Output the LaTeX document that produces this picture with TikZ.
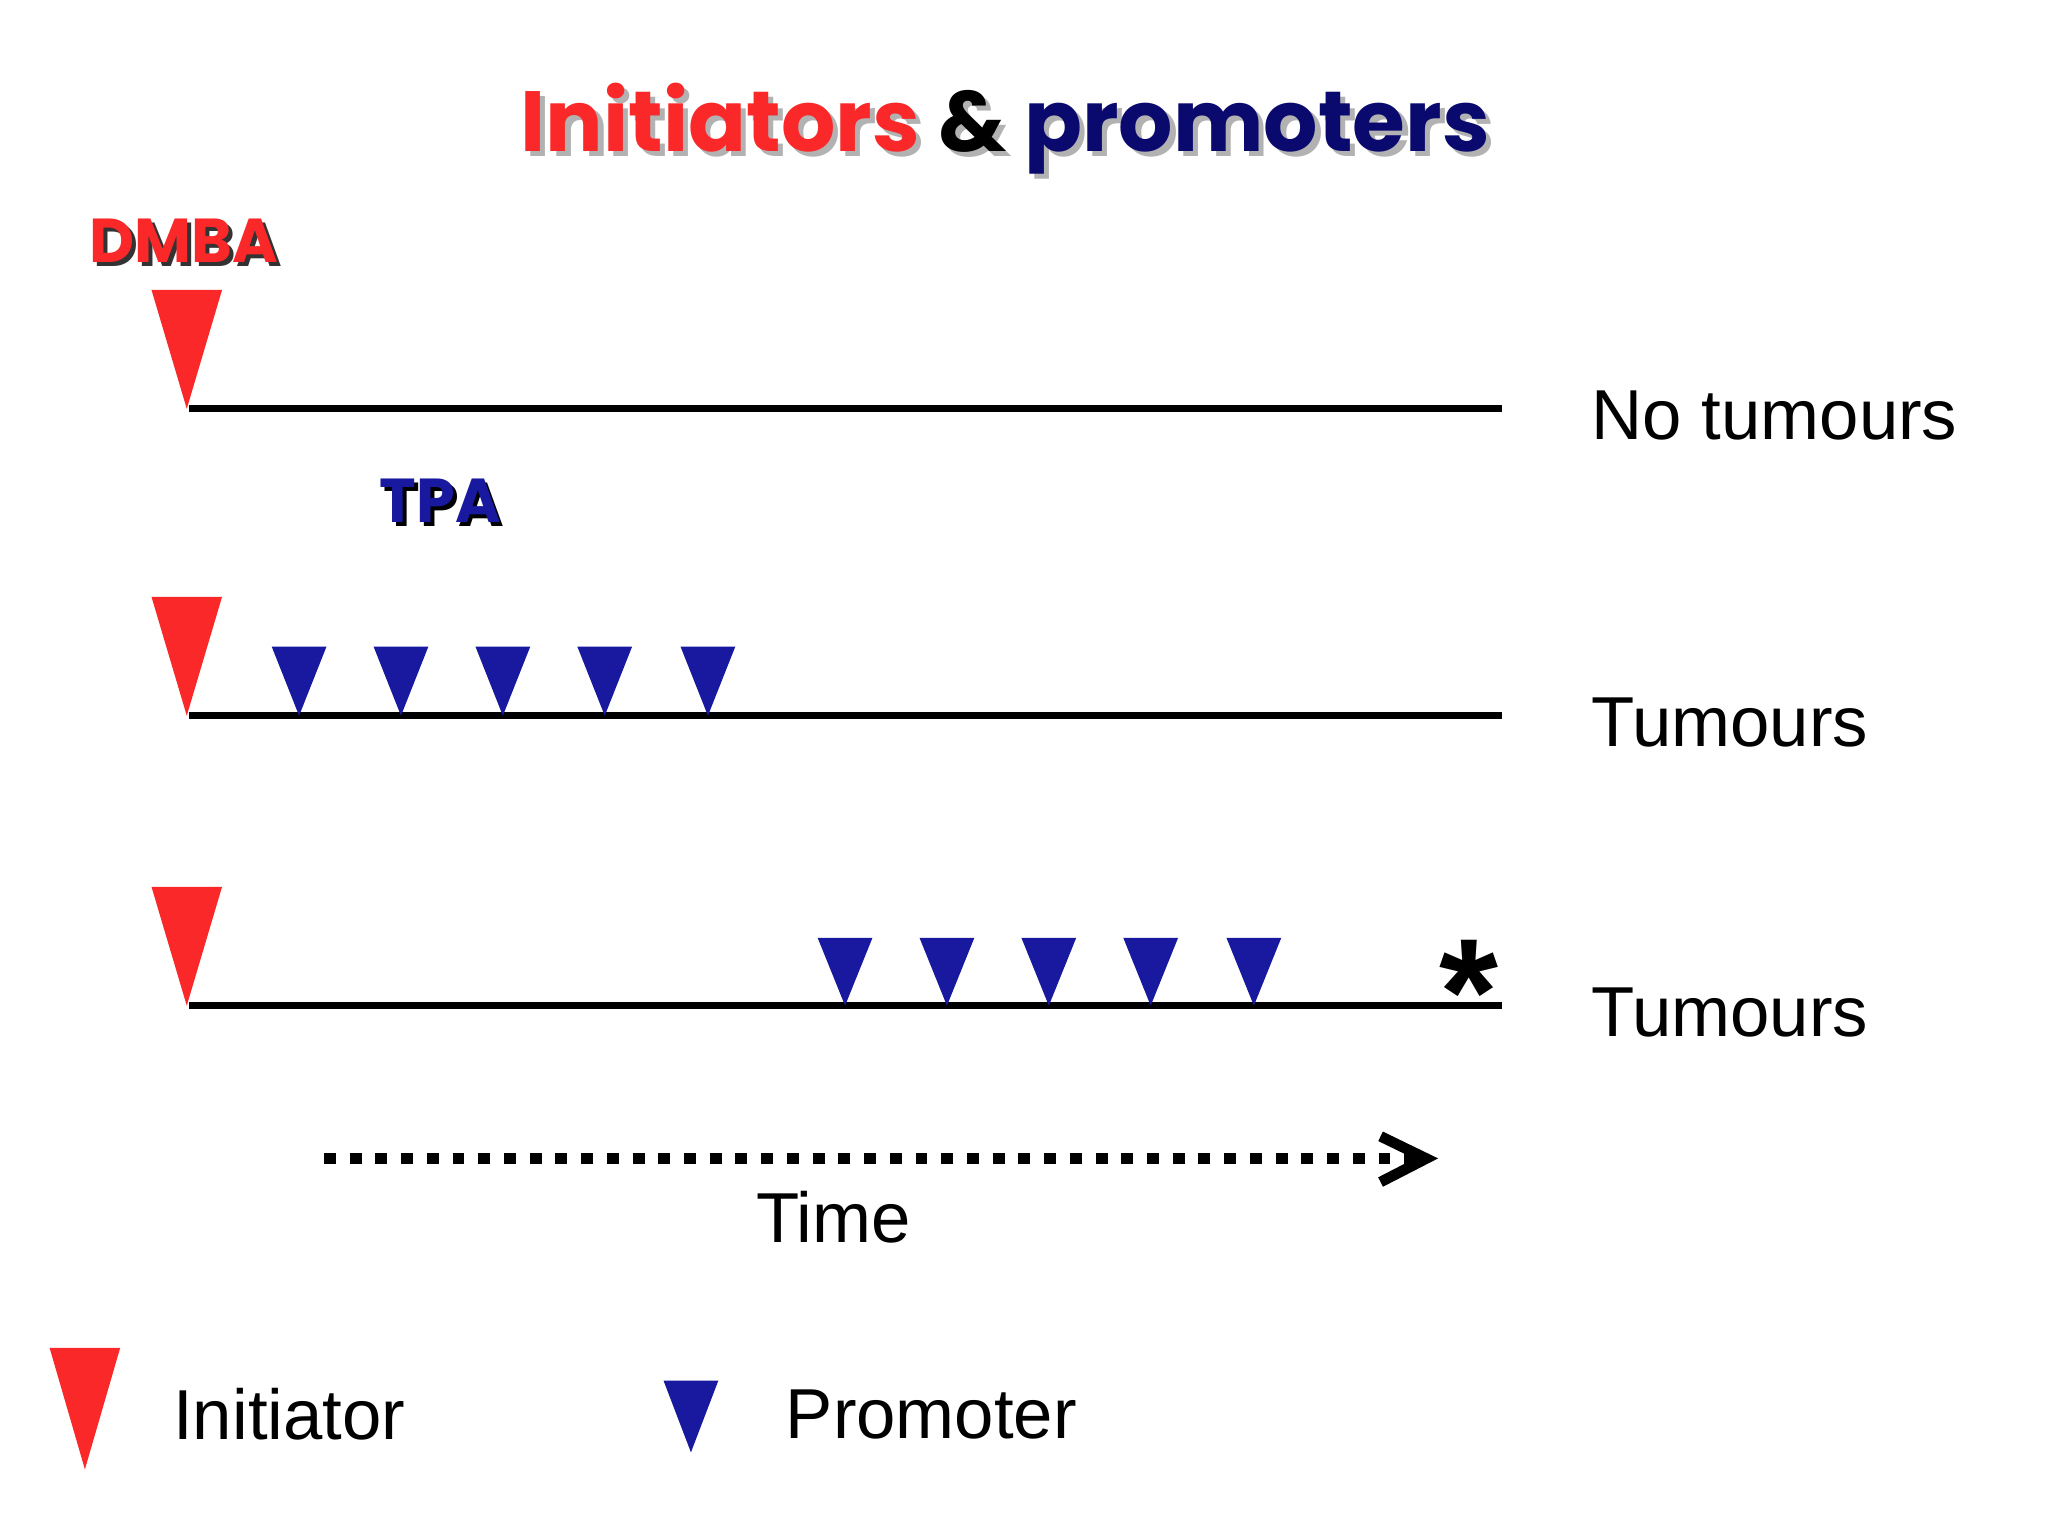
\documentclass[tikz,border=0pt]{standalone}
\usepackage{fontspec}
\setmainfont{Liberation Sans}
\newfontfamily\comic{Poppins}
\definecolor{ired}{RGB}{250,40,40}
\definecolor{pblue}{RGB}{25,25,160}
\definecolor{navy}{RGB}{10,10,110}
\begin{document}
\begin{tikzpicture}[x=0.01cm,y=-0.01cm,
  tline/.style={line width=1.5pt},
  lab/.style={anchor=west,font=\fontsize{15.4pt}{18pt}\selectfont,inner sep=0},
  ttl/.style={font=\comic\bfseries\fontsize{18.6pt}{22pt}\selectfont,inner sep=0},
  sml/.style={font=\comic\bfseries\fontsize{13.5pt}{16pt}\selectfont,inner sep=0}]
\useasboundingbox[fill=white] (0,0) rectangle (1568,1176);
\newcommand\initri[3]{\fill[ired] (#1-27,#2) -- (#1+27,#2) -- (#1,#3) -- cycle;}
\newcommand\protri[3]{\fill[pblue] (#1-21,#2) -- (#1+21,#2) -- (#1,#3) -- cycle;}
% title
\node[ttl,text=gray!60,anchor=base west] at (402,120) {Initiators \textcolor{gray!60}{\&} promoters};
\node[ttl,anchor=base west] (title) at (398,116) {\textcolor{ired}{Initiators} \textcolor{black}{\&} \textcolor{navy}{promoters}};
% lines
\draw[tline] (145,313) -- (1150,313) coordinate (e1);
\draw[tline] (145,548) -- (1150,548) coordinate (e2);
\draw[tline] (145,770) -- (1150,770) coordinate (e3);
\initri{143}{222}{313}
\initri{143}{457}{548}
\initri{143}{679}{770}
\foreach \x in {229,307,385,463,542} {\protri{\x}{495}{548}}
\foreach \x in {647,725,803,881,960} {\protri{\x}{718}{770}}
\node[font=\bfseries\fontsize{33pt}{33pt}\selectfont,inner sep=0] (ast) at (1125,760) {*};
% small labels
\node[sml,text=black!80,anchor=base west] at (71,204) {DMBA};
\node[sml,text=ired,anchor=base west] (dmba) at (68,201) {DMBA};
\node[sml,text=black,anchor=base west] at (293,403) {TPA};
\node[sml,text=pblue,anchor=base west] (tpa) at (290,400) {TPA};
% right labels
\node[lab] (l1) at (1218,318) {No tumours};
\node[lab] (l2) at (1218,553) {Tumours};
\node[lab] (l3) at (1218,775) {Tumours};
% time arrow
\coordinate (ts) at (248,887);
\coordinate (te) at (1092,887);
\draw[line width=2.5pt,dash pattern=on 2.6pt off 3pt] (ts) -- (te);
\draw[line width=2.3pt] (1057,870) -- (te) -- (1057,905);
\node[font=\fontsize{15.4pt}{18pt}\selectfont,inner sep=0] (time) at (638,932) {Time};
% legend
\fill[ired] (38,1032) -- (92,1032) -- (65,1125) -- cycle;
\node[lab] (li) at (132,1083) {Initiator};
\fill[pblue] (508,1057) -- (550,1057) -- (529,1112) -- cycle;
\node[lab] (lp) at (601,1083) {Promoter};
\end{tikzpicture}
\end{document}
